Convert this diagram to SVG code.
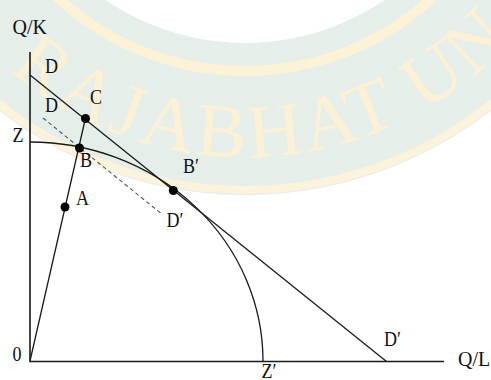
<svg xmlns="http://www.w3.org/2000/svg" width="491" height="380" viewBox="0 0 491 380">
<defs>
<style>
.ax{stroke:#1a1a1a;stroke-width:1.6;fill:none}
.ln{stroke:#1a1a1a;stroke-width:1.3;fill:none}
.dash{stroke:#555;stroke-width:1.1;stroke-dasharray:4 3;fill:none}
.dot{fill:#000}
.lbl{font-family:"Liberation Serif","Times New Roman",serif;font-size:22px;fill:#111}
.axl{font-family:"Liberation Serif","Times New Roman",serif;font-size:20px;fill:#111}
.wm{font-family:"Liberation Serif","Times New Roman",serif;font-size:76px;fill:#fcf1d4;letter-spacing:4px}
</style>
<path id="arc" d="M -117 -205 A 362 362 0 0 0 607 -205"/>
</defs>
<rect width="491" height="380" fill="#fff"/>
<g id="watermark">
<circle cx="245" cy="-205" r="324" fill="none" stroke="#e5eee8" stroke-width="152"/>
<circle cx="245" cy="-205" r="395" fill="none" stroke="#fbf3dc" stroke-width="8"/>
<circle cx="245" cy="-205" r="276" fill="none" stroke="#fcf2d6" stroke-width="10"/>
<text class="wm"><textPath href="#arc" startOffset="312">RAJABHAT UN</textPath></text>
</g>
<g id="axes">
<path class="ax" d="M30 52 V361.5 H444"/>
<text class="axl" x="12.5" y="34">Q/K</text>
<text class="axl" x="458" y="366">Q/L</text>
<text class="lbl" transform="translate(12.5,361) scale(0.82,1)">0</text>
</g>
<g id="connectors">
<path class="ln" d="M30 361 L85.5 118"/>
<path class="ln" d="M30 75 L386.5 361.5"/>
<path class="dash" d="M43 118 L163 215"/>
<path class="ln" d="M30 142 A233 219 0 0 1 263 361"/>
</g>
<g id="node-D-top"><text class="lbl" transform="translate(45,73) scale(0.82,1)">D</text></g>
<g id="node-D-dash"><text class="lbl" transform="translate(45,112) scale(0.82,1)">D</text></g>
<g id="node-Z"><text class="lbl" transform="translate(12.5,141.5) scale(0.82,1)">Z</text></g>
<g id="node-C"><circle class="dot" cx="85.5" cy="118.5" r="4.5"/><text class="lbl" transform="translate(90,104) scale(0.82,1)">C</text></g>
<g id="node-B"><circle class="dot" cx="79.5" cy="148" r="4.5"/><text class="lbl" transform="translate(80,166.5) scale(0.82,1)">B</text></g>
<g id="node-A"><circle class="dot" cx="65" cy="207" r="4.5"/><text class="lbl" transform="translate(76,205) scale(0.82,1)">A</text></g>
<g id="node-Bp"><circle class="dot" cx="173.3" cy="190.5" r="4.5"/><text class="lbl" transform="translate(183,173) scale(0.82,1)">B′</text></g>
<g id="node-Dp-dash"><text class="lbl" transform="translate(166.5,226.5) scale(0.82,1)">D′</text></g>
<g id="node-Dp"><text class="lbl" transform="translate(384,346) scale(0.82,1)">D′</text></g>
<g id="node-Zp"><text class="lbl" transform="translate(261.5,378) scale(0.82,1)">Z′</text></g>
</svg>
